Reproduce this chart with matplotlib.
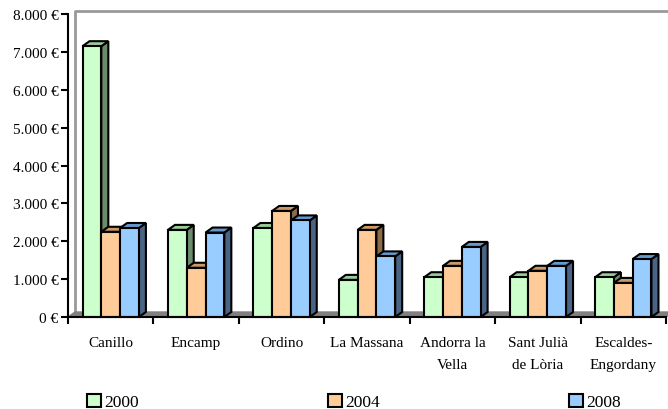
import matplotlib.pyplot as plt
from matplotlib.patches import Polygon, Rectangle
from matplotlib.ticker import FuncFormatter, FixedLocator

# Valors per parròquia i any
parroquies = ["Canillo", "Encamp", "Ordino", "La Massana", "Andorra la\nVella",
              "Sant Julià\nde Lòria", "Escaldes-\nEngordany"]
anys = ["2000", "2004", "2008"]
v2000 = [7150, 2300, 2350, 980, 1050, 1050, 1050]
v2004 = [2250, 1300, 2800, 2300, 1350, 1220, 900]
v2008 = [2350, 2230, 2550, 1600, 1850, 1350, 1530]

series = [v2000, v2004, v2008]
cara = ["#CCFFCC", "#FFCC99", "#99CCFF"]
costat = ["#6B8C6B", "#8C6B4A", "#4A6485"]
sostre = ["#99CC99", "#CC9966", "#6699CC"]

plt.rcParams["font.family"] = ["Liberation Serif", "DejaVu Serif"]

fig = plt.figure(figsize=(6.68, 4.10), dpi=100)
ax = fig.add_axes([68 / 668, 92 / 410, 598 / 668, 303 / 410])
ax.set_xlim(-0.5, 6.5)
ax.set_ylim(0, 8000)

# profunditat de l'efecte 3D en unitats de dades (~7 px, ~5 px)
dx = 7 / 598 * 7
dy = 5 / 303 * 8000

# paret del fons i terra
ax.plot([-0.5 + dx, -0.5 + dx, 6.5 + dx], [dy, 8000 + dy * 0.6, 8000 + dy * 0.6],
        color="#999999", lw=2, clip_on=False, zorder=1)
ax.plot([6.5 + dx, 6.5 + dx], [dy, 8000 + dy * 0.6], color="#CCCCCC", lw=1,
        clip_on=False, zorder=1)
ax.add_patch(Polygon([(-0.5, 0), (6.5, 0), (6.5 + dx, dy), (-0.5 + dx, dy)],
                     closed=True, facecolor="#808080", edgecolor="#808080",
                     clip_on=False, zorder=2))

w = 0.22
z = 3
for i in range(len(parroquies)):
    for s, vals in enumerate(series):
        x0 = i + (s - 1.5) * w
        x1 = x0 + w
        h = vals[i]
        kw = dict(edgecolor="black", lw=1.5, joinstyle="miter", clip_on=False)
        ax.add_patch(Polygon([(x1, 0), (x1, h), (x1 + dx, h + dy), (x1 + dx, dy)],
                             closed=True, facecolor=costat[s], zorder=z, **kw))
        ax.add_patch(Polygon([(x0, h), (x1, h), (x1 + dx, h + dy), (x0 + dx, h + dy)],
                             closed=True, facecolor=sostre[s], zorder=z, **kw))
        ax.add_patch(Rectangle((x0, 0), w, h, facecolor=cara[s], zorder=z + 1, **kw))
        z += 2

for side in ["top", "right"]:
    ax.spines[side].set_visible(False)
for side in ["left", "bottom"]:
    ax.spines[side].set_linewidth(1.5)
    ax.spines[side].set_zorder(z + 1)

ax.set_yticks(range(0, 8001, 1000))
ax.yaxis.set_major_formatter(FuncFormatter(
    lambda v, p: f"{int(v):,} €".replace(",", ".")))
ax.tick_params(axis="y", direction="out", length=5, width=1.5, labelsize=11, pad=2)

ax.set_xticks(range(len(parroquies)))
ax.set_xticklabels(parroquies, fontsize=11, linespacing=1.9)
ax.tick_params(axis="x", which="major", length=0, pad=14)
ax.xaxis.set_minor_locator(FixedLocator([k - 0.5 for k in range(8)]))
ax.tick_params(axis="x", which="minor", direction="out", length=5, width=1.5)

handles = [Rectangle((0, 0), 1, 1, facecolor=c, edgecolor="black", lw=1.5) for c in cara]
fig.legend(handles, anys, loc="lower left", ncol=3, mode="expand",
           bbox_to_anchor=(80 / 668, -0.02, 548 / 668, 0.07), frameon=False,
           fontsize=12.5, handlelength=0.8, handleheight=0.8, handletextpad=0.2,
           borderaxespad=0.0)

fig.savefig("out.png", dpi=100)
